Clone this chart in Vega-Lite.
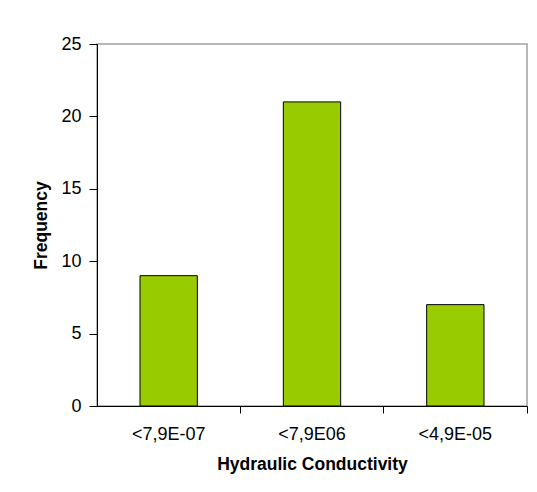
{
  "$schema": "https://vega.github.io/schema/vega-lite/v6.json",
  "width": 430,
  "height": 362,
  "autosize": "none",
  "padding": {"left": 97, "top": 44, "right": 10, "bottom": 86},
  "background": "white",
  "config": {
    "font": "Liberation Sans",
    "view": {"stroke": "#a0a0a0", "strokeWidth": 1.5}
  },
  "data": {
    "values": [
      {"category": "<7,9E-07", "frequency": 9},
      {"category": "<7,9E06", "frequency": 21},
      {"category": "<4,9E-05", "frequency": 7}
    ]
  },
  "mark": {"type": "bar", "color": "#99CC00", "stroke": "black", "strokeWidth": 1},
  "encoding": {
    "x": {
      "field": "category",
      "type": "nominal",
      "sort": null,
      "scale": {"paddingInner": 0.6, "paddingOuter": 0.3},
      "axis": {
        "title": "Hydraulic Conductivity",
        "titleFont": "Liberation Sans",
        "titleFontSize": 17.5,
        "titleFontWeight": "bold",
        "titleColor": "black",
        "titlePadding": 12,
        "labelAngle": 0,
        "labelFont": "Liberation Sans",
        "labelFontSize": 18,
        "labelColor": "black",
        "labelPadding": 12,
        "bandPosition": 1.75,
        "tickSize": 7,
        "tickColor": "black",
        "domainColor": "black",
        "domainWidth": 1,
        "tickWidth": 1
      }
    },
    "y": {
      "field": "frequency",
      "type": "quantitative",
      "scale": {"domain": [0, 25], "nice": false},
      "axis": {
        "title": "Frequency",
        "titleFont": "Liberation Sans",
        "titleFontSize": 17.5,
        "titleFontWeight": "bold",
        "titleColor": "black",
        "titlePadding": 10,
        "values": [0, 5, 10, 15, 20, 25],
        "labelFont": "Liberation Sans",
        "labelFontSize": 18,
        "labelColor": "black",
        "labelPadding": 8,
        "tickSize": 8,
        "tickColor": "black",
        "domainColor": "black",
        "grid": false
      }
    }
  }
}
